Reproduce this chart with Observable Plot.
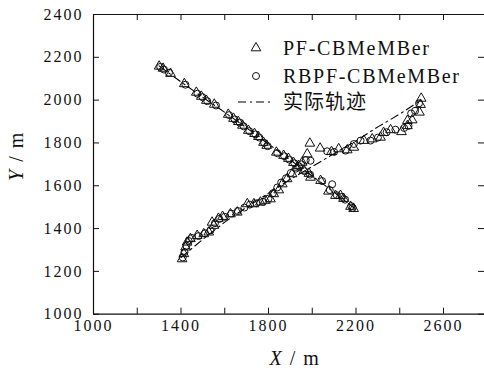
<!DOCTYPE html>
<html><head><meta charset="utf-8">
<script src="https://cdn.jsdelivr.net/npm/d3@7"></script>
<script src="https://cdn.jsdelivr.net/npm/@observablehq/plot@0.6"></script>
<style>
body{margin:0;background:#fff;}
#chart svg{display:block;}
</style></head><body><div id="chart"></div>
<script>
// ---- data ----
const xTicks = [1000,1200,1400,1600,1800,2000,2200,2400,2600,2800];
const xTickLabels = [1000,1400,1800,2200,2600];
const yTicks = [1000,1200,1400,1600,1800,2000,2200,2400];

// true tracks (实际轨迹)
const truth1 = [[1300,2160],[1400,2085],[1500,2013],[1600,1943],[1700,1870],[1800,1795],[1900,1720],[2000,1645],[2100,1570],[2190,1497]];
const truth2 = [[1400,1265],[1500,1350],[1600,1430],[1700,1500],[1800,1565],[1900,1630],[2000,1690],[2100,1750],[2200,1810],[2300,1875],[2400,1935],[2490,1995]];

// PF-CBMeMBer estimates
const pf1 = [[1300,2158],[1318,2148],[1352,2124],[1415,2076],[1470,2036],[1493,2017],[1516,1998],[1552,1980],[1616,1933],[1640,1914],[1662,1899],[1681,1882],[1708,1858],[1736,1843],[1754,1829],[1777,1802],[1792,1788],[1836,1756],[1869,1741],[1891,1727],[1914,1708],[1937,1694],[1962,1672],[1985,1657],[1992,1639],[2038,1624],[2074,1574],[2106,1554],[2129,1554],[2143,1540],[2175,1503],[2189,1493]];
const pf2 = [[1405,1258],[1413,1282],[1421,1313],[1428,1336],[1443,1352],[1474,1367],[1504,1375],[1527,1383],[1542,1429],[1550,1414],[1571,1447],[1590,1456],[1626,1468],[1657,1476],[1703,1515],[1733,1515],[1763,1523],[1786,1531],[1809,1538],[1824,1562],[1847,1580],[1863,1608],[1885,1632],[1908,1655],[1931,1686],[1954,1709],[1977,1748],[1989,1798],[2036,1775],[2088,1759],[2121,1772],[2160,1767],[2190,1779],[2236,1811],[2274,1818],[2312,1826],[2326,1848],[2358,1861],[2408,1852],[2435,1880],[2435,1904],[2457,1907],[2490,1943],[2495,1979],[2498,2008]];

// RBPF-CBMeMBer estimates
const rb1 = [[1305,2155],[1322,2143],[1345,2128],[1420,2072],[1475,2030],[1498,2014],[1520,1995],[1560,1975],[1620,1930],[1645,1910],[1668,1895],[1686,1878],[1712,1855],[1740,1840],[1758,1825],[1780,1800],[1796,1785],[1840,1752],[1872,1738],[1895,1722],[1918,1705],[1940,1690],[1965,1668],[1990,1652],[2045,1622],[2091,1607],[2080,1580],[2112,1556],[2135,1548],[2150,1535],[2178,1505],[2185,1497]];
const rb2 = [[1408,1265],[1416,1290],[1425,1320],[1435,1342],[1450,1356],[1480,1365],[1510,1378],[1535,1392],[1555,1425],[1575,1445],[1600,1455],[1630,1470],[1660,1482],[1690,1498],[1715,1512],[1745,1518],[1775,1525],[1800,1540],[1820,1565],[1840,1592],[1858,1615],[1880,1635],[1902,1660],[1925,1680],[1950,1700],[1970,1720],[1992,1717],[2068,1761],[2100,1758],[2152,1764],[2190,1795],[2221,1811],[2266,1811],[2300,1825],[2340,1850],[2380,1862],[2420,1870],[2440,1880],[2452,1938],[2470,1950],[2488,1985]];

const legendLabels = ["PF-CBMeMBer","RBPF-CBMeMBer","实际轨迹"];

// ---- chart ----
const W = 484, H = 379;
const L = 93, T = 14, B = 313.7, R = 486.75;
const tick = 6;
const serif = "'Liberation Serif','Times New Roman',serif";
const ink = "#111";
const X = d => d[0], Y = d => d[1];

const plot = Plot.plot({
  width: W, height: H,
  marginLeft: L, marginTop: T, marginBottom: H - B, marginRight: 0,
  x: {domain: [1000, 2800], range: [L, R]},
  y: {domain: [1000, 2400], range: [B, T]},
  style: {fontFamily: serif, fontSize: "16px", color: ink, background: "#fff", overflow: "visible"},
  marks: [
    Plot.line(truth1, {x: X, y: Y, stroke: "#000", strokeWidth: 1.1, strokeDasharray: "8,4,2,4"}),
    Plot.line(truth2, {x: X, y: Y, stroke: "#000", strokeWidth: 1.1, strokeDasharray: "8,4,2,4"}),
    Plot.dot(pf1.concat(pf2), {x: X, y: Y, symbol: "triangle", r: 3.6, stroke: ink, strokeWidth: 1, fill: "none"}),
    Plot.dot(rb1.concat(rb2), {x: X, y: Y, symbol: "circle", r: 3.5, stroke: ink, strokeWidth: 1, fill: "none"}),
    // frame
    Plot.ruleX([1000, 2800], {stroke: ink, strokeWidth: 1.2}),
    Plot.ruleY([1000, 2400], {stroke: ink, strokeWidth: 1.2}),
    // inward ticks
    Plot.ruleX(xTicks, {stroke: ink, insetTop: (B - T) - tick}),
    Plot.ruleX(xTicks, {stroke: ink, insetBottom: (B - T) - tick}),
    Plot.ruleY(yTicks, {stroke: ink, insetRight: (W - L) - tick}),
    Plot.ruleY(yTicks, {stroke: ink, insetLeft: (W - L) - tick}),
    // tick labels
    Plot.axisX(xTickLabels, {anchor: "bottom", tickSize: 0, tickPadding: 5, label: null, tickFormat: d => String(d), fill: ink}),
    Plot.axisY(yTicks, {anchor: "left", tickSize: 0, tickPadding: 8, label: null, tickFormat: d => String(d), fill: ink})
  ]
});

const svg = d3.select(plot);
svg.selectAll("g[aria-label='x-axis tick label'] text, g[aria-label='y-axis tick label'] text")
  .style("letter-spacing", "2px").style("font-family", serif).style("font-size", "16px");
svg.selectAll("g[aria-label='y-axis tick label'] text").attr("dx", "-2");

// axis titles
const xt = svg.append("text").attr("x", 295).attr("y", 365).attr("text-anchor", "middle")
  .style("font-family", serif).style("font-size", "20px").style("letter-spacing", "1.5px").attr("fill", ink);
xt.append("tspan").style("font-style", "italic").text("X");
xt.append("tspan").text(" / m");
const yt = svg.append("text").attr("transform", "translate(23,156) rotate(-90)").attr("text-anchor", "middle")
  .style("font-family", serif).style("font-size", "20px").style("letter-spacing", "1.5px").attr("fill", ink);
yt.append("tspan").style("font-style", "italic").text("Y");
yt.append("tspan").text(" / m");

// legend
const lg = svg.append("g");
const rows = [48, 76, 102];
lg.append("path").attr("transform", `translate(256,${rows[0]})`)
  .attr("d", d3.symbol(d3.symbolTriangle, Math.PI * 3.6 * 3.6)()).attr("fill", "none").attr("stroke", ink).attr("stroke-width", 1);
lg.append("circle").attr("cx", 256).attr("cy", rows[1]).attr("r", 3.5).attr("fill", "none").attr("stroke", ink).attr("stroke-width", 1);
lg.append("line").attr("x1", 238).attr("x2", 270).attr("y1", rows[2]).attr("y2", rows[2])
  .attr("stroke", "#000").attr("stroke-width", 1.1).attr("stroke-dasharray", "8,4,2,4");
legendLabels.forEach((t, i) => {
  lg.append("text").attr("x", 283).attr("y", rows[i]).attr("dy", "0.35em").attr("text-anchor", "start")
    .style("font-family", serif + ",'Noto Sans CJK SC'").style("font-size", "20px")
    .style("letter-spacing", i < 2 ? "1.7px" : "1px").attr("fill", ink).text(t);
});

document.getElementById("chart").appendChild(plot);
</script></body></html>
